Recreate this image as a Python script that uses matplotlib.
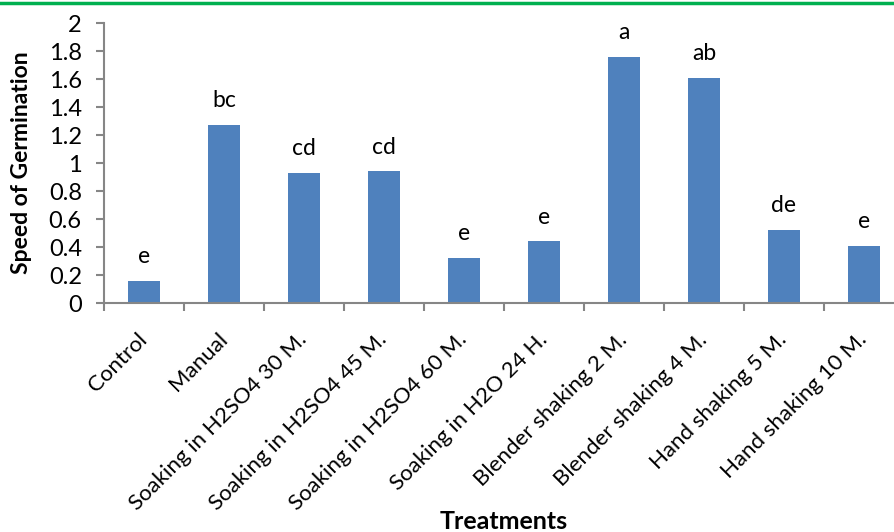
import matplotlib.pyplot as plt
from matplotlib.lines import Line2D
from matplotlib.transforms import ScaledTranslation

treatments = ["Control", "Manual", "Soaking in H2SO4 30 M.", "Soaking in H2SO4 45 M.",
              "Soaking in H2SO4 60 M.", "Soaking in H2O 24 H.", "Blender shaking 2 M.",
              "Blender shaking 4 M.", "Hand shaking 5 M.", "Hand shaking 10 M."]
speed = [0.16, 1.27, 0.93, 0.94, 0.32, 0.44, 1.76, 1.61, 0.52, 0.41]
letters = ["e", "bc", "cd", "cd", "e", "e", "a", "ab", "de", "e"]
yticks = [0, 0.2, 0.4, 0.6, 0.8, 1, 1.2, 1.4, 1.6, 1.8, 2]
ytick_labels = ["0", "0.2", "0.4", "0.6", "0.8", "1", "1.2", "1.4", "1.6", "1.8", "2"]

plt.rcParams['font.family'] = ['Lato', 'DejaVu Sans']
grey = "#868686"

fig = plt.figure(figsize=(8.95, 5.32), dpi=100)
ax = fig.add_axes([104 / 895, 229 / 532, 800 / 895, 280 / 532])

x = range(len(treatments))
ax.bar(x, speed, width=0.4, color="#4F81BD", edgecolor="none", zorder=2)

for i, v in enumerate(speed):
    ax.annotate(letters[i], (i, v), xytext=(0, 10), textcoords="offset points",
                ha="center", va="bottom", fontsize=16.5)

ax.set_xlim(-0.5, len(treatments) - 0.5)
ax.set_ylim(0, 2)
ax.set_yticks(yticks)
ax.set_yticklabels(ytick_labels, fontsize=17)
ax.set_xticks([i - 0.5 for i in range(len(treatments) + 1)], minor=False)
ax.set_xticklabels([])
ax.set_xticks(list(x), minor=True)
ax.set_xticklabels(treatments, minor=True, rotation=45, ha="right", va="center",
                   rotation_mode="anchor", fontsize=16)
shift = ScaledTranslation(10 / 100, 0, fig.dpi_scale_trans)
for lab in ax.get_xticklabels(minor=True):
    lab.set_transform(lab.get_transform() + shift)
ax.tick_params(axis="x", which="minor", length=0, pad=24)
ax.tick_params(axis="x", which="major", length=6, width=1.5, color=grey, direction="out")
ax.tick_params(axis="y", length=6, width=1.5, color=grey, direction="out", pad=10)

for s in ["top", "right"]:
    ax.spines[s].set_visible(False)
for s in ["left", "bottom"]:
    ax.spines[s].set_color(grey)
    ax.spines[s].set_linewidth(1.5)

ax.set_ylabel("Speed of Germination", fontsize=16.5, fontweight="bold")
ax.yaxis.set_label_coords(-72 / 800, 0.5)
fig.text(504 / 895, 3 / 532, "Treatments", ha="center", va="baseline",
         fontsize=18, fontweight="bold")

fig.add_artist(Line2D([0, 1], [1 - 2.5 / 532, 1 - 2.5 / 532], transform=fig.transFigure,
                      color="#00B050", linewidth=2.5))

fig.savefig("out.png", dpi=100)
